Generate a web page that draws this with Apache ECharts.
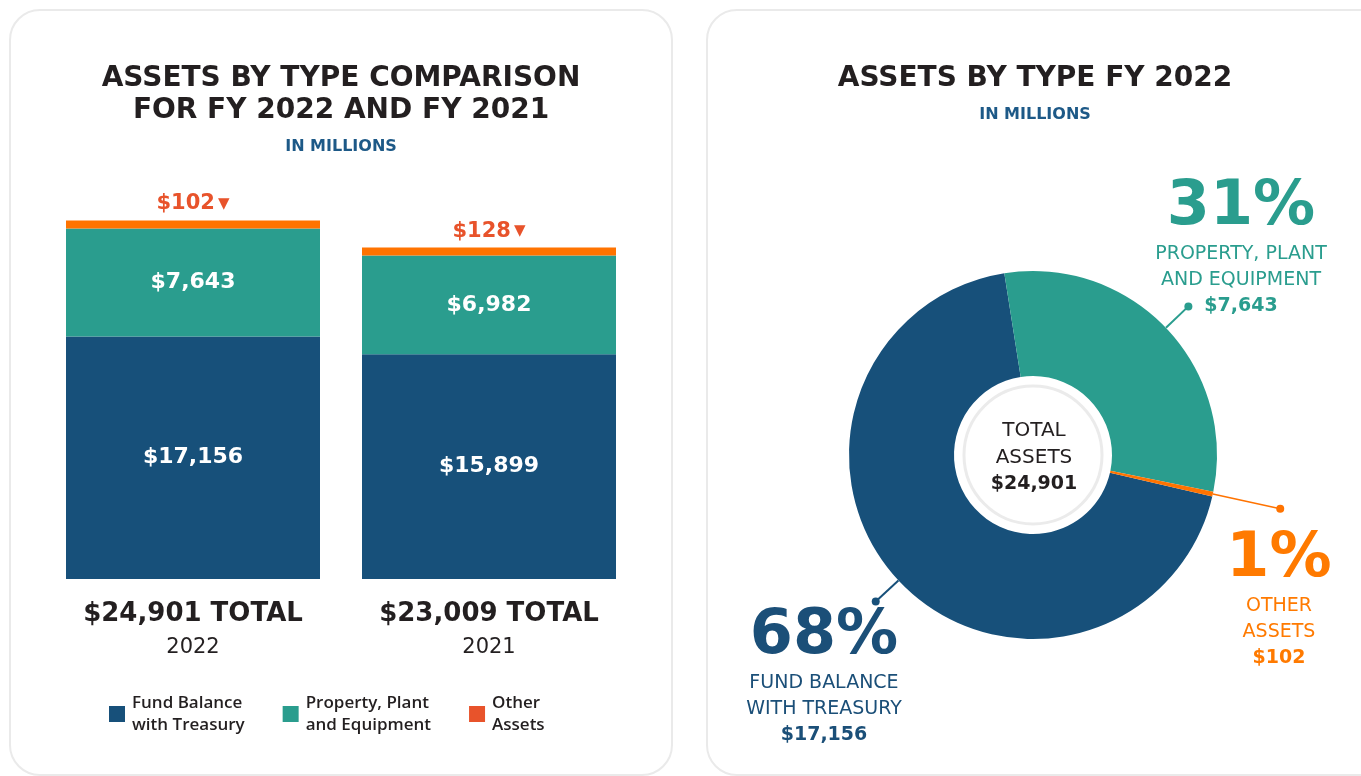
<!DOCTYPE html>
<html><head><meta charset="utf-8">
<script src="https://cdn.jsdelivr.net/npm/echarts@6/dist/echarts.min.js"></script>
<style>html,body{margin:0;padding:0;background:#fff}#c{width:1361px;height:776px}</style>
</head><body><div id="c"></div>
<script>
// ---------- data ----------
const years = ['2022', '2021'];
const fundBalance = [17156, 15899];
const propertyPlant = [7643, 6982];
const otherAssets = [102, 128];
const seriesNames = ['Fund Balance\nwith Treasury', 'Property, Plant\nand Equipment', 'Other\nAssets'];

const pieNames = ['FUND BALANCE\nWITH TREASURY', 'PROPERTY, PLANT\nAND EQUIPMENT', 'OTHER\nASSETS'];
const pieValues = [17156, 7643, 102];
const piePctLabels = ['68%', '31%', '1%'];

// ---------- styles / layout ----------
const FONT = '"DejaVu Sans", sans-serif';
const DARK = '#231F20';
const colors = ['#17507A', '#2A9D8E', '#FF7300'];
const pieTextColors = ['#1B4F78', '#2A9D8E', '#FF7A00'];
const otherLabelColor = '#E8532B';
const PIE = { cx: 1033, cy: 455, r0: 79, r: 184, start: 347 };
const leaderLen = [31, 31, 69];
const labelPos = [[824, 604], [1241, 175], [1279, 527]];

const fmt = v => '$' + v.toLocaleString('en-US');
const totals = years.map((_, i) => fundBalance[i] + propertyPlant[i] + otherAssets[i]);
const pieTotal = pieValues.reduce((a, b) => a + b, 0);

// leader lines from slice mid-angles
let acc = 0;
const midAngles = pieValues.map(v => {
  const a0 = PIE.start - acc / pieTotal * 360;
  acc += v;
  const a1 = PIE.start - acc / pieTotal * 360;
  return (a0 + a1) / 2 * Math.PI / 180;
});
const leaderGraphics = [];
midAngles.forEach((a, i) => {
  const c = Math.cos(a), s = -Math.sin(a);
  const p0 = [PIE.cx + PIE.r * c, PIE.cy + PIE.r * s];
  const p1 = [PIE.cx + (PIE.r + leaderLen[i]) * c, PIE.cy + (PIE.r + leaderLen[i]) * s];
  leaderGraphics.push({ type: 'polyline', z: 10, shape: { points: [p0, p1] },
    style: { stroke: colors[i], lineWidth: i === 2 ? 1.5 : 2, fill: null } });
  leaderGraphics.push({ type: 'circle', z: 10, shape: { cx: p1[0], cy: p1[1], r: 4 },
    style: { fill: colors[i] } });
});

const pieRich = {};
pieTextColors.forEach((col, i) => {
  pieRich['p' + i] = { fontFamily: FONT, fontSize: 62, fontWeight: 'bold', color: col, lineHeight: 66, align: 'center' };
  pieRich['n' + i] = { fontFamily: FONT, fontSize: 19, fontWeight: 'normal', color: col, lineHeight: 26, align: 'center' };
  pieRich['v' + i] = { fontFamily: FONT, fontSize: 19, fontWeight: 'bold', color: col, lineHeight: 26, align: 'center' };
});

const chart = echarts.init(document.getElementById('c'), null, { renderer: 'canvas' });
chart.setOption({
  animation: false,
  backgroundColor: '#fff',
  graphic: [
    { type: 'rect', z: -5, shape: { x: 10, y: 10, width: 662, height: 765, r: 30 },
      style: { fill: '#fff', stroke: '#EAEAEA', lineWidth: 2 } },
    { type: 'rect', z: -5, shape: { x: 707, y: 10, width: 700, height: 765, r: 30 },
      style: { fill: '#fff', stroke: '#EAEAEA', lineWidth: 2 } },
    { type: 'circle', z: 10, shape: { cx: PIE.cx, cy: PIE.cy, r: 69 },
      style: { fill: null, stroke: '#EBEBEB', lineWidth: 3 } }
  ].concat(leaderGraphics),
  title: [
    { text: 'ASSETS BY TYPE COMPARISON\nFOR FY 2022 AND FY 2021', subtext: 'IN MILLIONS',
      left: 341, top: 63, textAlign: 'center', padding: 0, itemGap: 11,
      textStyle: { fontFamily: FONT, fontSize: 28, fontWeight: 'bold', color: DARK, lineHeight: 32 },
      subtextStyle: { fontFamily: FONT, fontSize: 16, fontWeight: 'bold', color: '#1D5987', lineHeight: 18 } },
    { text: 'ASSETS BY TYPE FY 2022', subtext: 'IN MILLIONS',
      left: 1035, top: 63, textAlign: 'center', padding: 0, itemGap: 11,
      textStyle: { fontFamily: FONT, fontSize: 28, fontWeight: 'bold', color: DARK, lineHeight: 32 },
      subtextStyle: { fontFamily: FONT, fontSize: 16, fontWeight: 'bold', color: '#1D5987', lineHeight: 18 } },
    { text: '{a|TOTAL}\n{a|ASSETS}\n{b|' + fmt(pieTotal) + '}',
      left: PIE.cx + 1, top: 417, textAlign: 'center', padding: 0, z: 12,
      textStyle: { fontWeight: 'normal', rich: {
        a: { fontFamily: FONT, fontSize: 20, fontWeight: 'normal', color: DARK, lineHeight: 27, align: 'center' },
        b: { fontFamily: FONT, fontSize: 19, fontWeight: 'bold', color: DARK, lineHeight: 27, align: 'center' } } } }
  ],
  legend: {
    data: [{ name: seriesNames[0] }, { name: seriesNames[1] },
           { name: seriesNames[2], itemStyle: { color: otherLabelColor } }],
    left: 109, top: 692, padding: 0, itemWidth: 16, itemHeight: 16, itemGap: 38, icon: 'rect',
    selectedMode: false,
    textStyle: { fontFamily: '"Open Sans", sans-serif', fontSize: 17, fontWeight: 600, color: DARK, lineHeight: 22, padding: [0, 0, 0, 2] }
  },
  grid: { left: 45, width: 592, top: 155, height: 424 },
  xAxis: {
    type: 'category', data: years,
    axisLine: { show: false }, axisTick: { show: false },
    axisLabel: {
      margin: 18,
      formatter: (v, i) => '{t|' + fmt(totals[i]) + ' TOTAL}\n{y|' + v + '}',
      rich: {
        t: { fontFamily: FONT, fontSize: 26, fontWeight: 'bold', color: DARK, lineHeight: 34 },
        y: { fontFamily: FONT, fontSize: 21, color: DARK, lineHeight: 34 }
      }
    }
  },
  yAxis: { type: 'value', min: 0, max: 30000, show: false, splitLine: { show: false } },
  series: [
    { type: 'bar', name: seriesNames[0], stack: 'assets', data: fundBalance, barWidth: 254,
      itemStyle: { color: colors[0] },
      label: { show: true, position: 'inside', formatter: p => fmt(p.value), color: '#fff',
        fontFamily: FONT, fontWeight: 'bold', fontSize: 22 } },
    { type: 'bar', name: seriesNames[1], stack: 'assets', data: propertyPlant, barWidth: 254,
      itemStyle: { color: colors[1] },
      label: { show: true, position: 'inside', formatter: p => fmt(p.value), color: '#fff',
        fontFamily: FONT, fontWeight: 'bold', fontSize: 22 } },
    { type: 'bar', name: seriesNames[2], stack: 'assets', data: otherAssets, barWidth: 254,
      barMinHeight: 8, itemStyle: { color: colors[2] },
      label: { show: true, position: 'top', distance: 6,
        formatter: p => '{v|' + fmt(p.value) + '}{t|▼}',
        rich: {
          v: { fontFamily: FONT, fontSize: 21, fontWeight: 'bold', color: otherLabelColor },
          t: { fontFamily: FONT, fontSize: 15, color: otherLabelColor, padding: [0, 0, 0, 3] }
        } } },
    { type: 'pie', name: 'Assets FY 2022', center: [PIE.cx, PIE.cy], radius: [PIE.r0, PIE.r],
      startAngle: PIE.start, clockwise: true, avoidLabelOverlap: false, silent: true,
      data: pieValues.map((v, i) => ({ name: pieNames[i].replace('\n', ' '), value: v, itemStyle: { color: colors[i] } })),
      label: {
        show: true, position: 'outside',
        formatter: p => {
          const i = p.dataIndex;
          const names = pieNames[i].split('\n').map(s => '{n' + i + '|' + s + '}').join('\n');
          return '{p' + i + '|' + piePctLabels[i] + '}\n' + names + '\n{v' + i + '|' + fmt(p.value) + '}';
        },
        rich: pieRich
      },
      labelLine: { show: false },
      labelLayout: p => ({ x: labelPos[p.dataIndex][0], y: labelPos[p.dataIndex][1], align: 'center', verticalAlign: 'top' })
    }
  ]
});
</script>
</body></html>
